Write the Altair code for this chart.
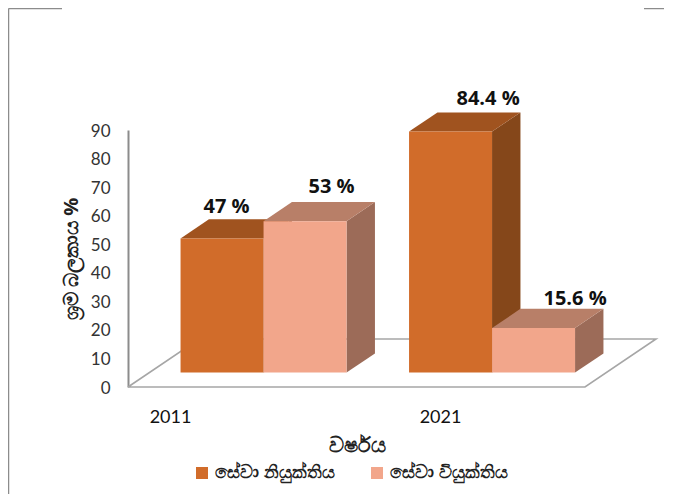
import altair as alt
import pandas as pd

years = ["2011", "2021"]
series = ["සේවා නියුක්තිය", "සේවා වියුක්තිය"]
values = [[47, 53], [84.4, 15.6]]
value_labels = [["47 %", "53 %"], ["84.4 %", "15.6 %"]]
front_colors = ["#D16C2A", "#F2A68B"]
top_colors = ["#A0531F", "#B87F68"]
side_colors = ["#85471A", "#9C6B58"]
y_ticks = [0, 10, 20, 30, 40, 50, 60, 70, 80, 90]

# layout (pixels of the plot area)
PW, PH = 528, 257
CAT = 228.5               # pixels per category
PX_V = PH / 90            # pixels per value unit
DX, DY = 71 / CAT, 48 / PX_V  # projected shift of full floor depth
BAR_W = 83 / CAT
D0, D1 = 0.3, 0.7         # bar depth range


def proj_x(u, d):
    return u + DX * d


def proj_y(v, d):
    return v + DY * d


label_du = [[46 / CAT, 68 / CAT], [79 / CAT, 83 / CAT]]
label_dv = [[12.5 / PX_V, 15.5 / PX_V], [13.5 / PX_V, 9.5 / PX_V]]

fronts, sides, tops, labels = [], [], [], []
for i, yr in enumerate(years):
    for j, s in enumerate(series):
        v = values[i][j]
        left = i + 0.5 - BAR_W + BAR_W * j
        right = left + BAR_W
        key = f"{yr}-{j}"
        fronts.append(dict(series=s, x=proj_x(left, D0), x2=proj_x(right, D0),
                           y=proj_y(0, D0), y2=proj_y(v, D0)))
        for d in (D0, D1):
            sides.append(dict(key=key, shade=side_colors[j], x=proj_x(right, d),
                              y=proj_y(0, d), y2=proj_y(v, d)))
            tops.append(dict(key=key, shade=top_colors[j], x=proj_x(left, d),
                             x2=proj_x(right, d), y=proj_y(v, d)))
        labels.append(dict(text=value_labels[i][j],
                           x=proj_x(left, D0) + label_du[i][j],
                           y=proj_y(v, D1) + label_dv[i][j]))

floor_pts = [(0, 0), (2, 0), (2, 1), (0, 1), (0, 0)]
floor = pd.DataFrame([dict(o=k, x=proj_x(u, d), y=proj_y(0, d))
                      for k, (u, d) in enumerate(floor_pts)])

x_scale = alt.Scale(domain=[0, PW / CAT], range=[0, PW], nice=False, zero=False)
y_scale = alt.Scale(domain=[0, 90], range=[PH, 0], nice=False, zero=False)
AXIS_COLOR = "#8C8C8C"
FONT_LAT = "Lato"
FONT_BOLD = "Open Sans"
FONT_SIN = "Noto Sans"

tick_pos = [42 / CAT, 312 / CAT]
x_axis = alt.Axis(values=tick_pos, labelExpr="datum.index < 0.5 ? '2011' : '2021'",
                  domain=False, ticks=False, grid=False, labelFontSize=18,
                  labelFont=FONT_LAT, labelColor="#111111", labelPadding=21,
                  labelFlush=False, labelOverlap=False,
                  title="වර්ෂය", titleFont=FONT_SIN, titleFontSize=21, titleFontWeight="bold",
                  titleColor="#222222", titleAnchor="start", titleX=229, titleY=58,
                  titleAlign="center", titleBaseline="middle")
y_axis = alt.Axis(values=y_ticks, domain=True, domainColor=AXIS_COLOR, domainWidth=2,
                  ticks=False, grid=False, labelFontSize=17, labelFont=FONT_LAT,
                  labelColor="#333333", labelPadding=18, labelOffset=1,
                  title="ශ්‍රම බලකාය %", titleFont=FONT_SIN, titleFontSize=20,
                  titleFontWeight="bold", titleColor="#222222", titlePadding=9)

X = alt.X("x:Q", scale=x_scale, axis=x_axis)
Y = alt.Y("y:Q", scale=y_scale, axis=y_axis, stack=None)

floor_layer = alt.Chart(floor).mark_line(color="#A6A6A6", strokeWidth=1.6).encode(
    x=X, y=Y, order="o:Q",
)
side_layer = alt.Chart(pd.DataFrame(sides)).mark_area(orient="vertical", opacity=1).encode(
    x=X, y=Y, y2="y2:Q", detail="key:N", color=alt.Color("shade:N", scale=None),
)
top_layer = alt.Chart(pd.DataFrame(tops)).mark_area(orient="horizontal", opacity=1).encode(
    x=X, x2="x2:Q", y=Y, detail="key:N", color=alt.Color("shade:N", scale=None),
)
front_layer = alt.Chart(pd.DataFrame(fronts)).mark_rect().encode(
    x=X, x2="x2:Q", y=Y, y2="y2:Q",
    color=alt.Color("series:N",
                    scale=alt.Scale(domain=series, range=front_colors),
                    legend=alt.Legend(orient="none", legendX=65, legendY=334,
                                      direction="horizontal", title=None,
                                      symbolType="square", symbolSize=144, symbolStrokeWidth=0,
                                      labelFont=FONT_SIN, labelFontSize=18, labelFontWeight="bold",
                                      labelOffset=4,
                                      labelColor="#222222", columnPadding=33, labelLimit=200)),
)
label_layer = alt.Chart(pd.DataFrame(labels)).mark_text(
    font=FONT_BOLD, fontSize=20, fontWeight="bold", color="#111111", baseline="middle", align="center",
).encode(x=X, y=Y, text="text:N")

# frame corners of the original picture
frame = pd.DataFrame([dict(x=-119.5, x2=-66, y=-121.5, y2=-121.5),
                      dict(x=-119.5, x2=-119.5, y=-121.5, y2=364),
                      dict(x=516, x2=536, y=-121.5, y2=-121.5)])
frame_layers = [
    alt.Chart(pd.DataFrame([row])).mark_rule(color=AXIS_COLOR, strokeWidth=1.5).encode(
        x=alt.value(row["x"]), x2=alt.value(row["x2"]),
        y=alt.value(row["y"]), y2=alt.value(row["y2"]))
    for row in frame.to_dict("records")
]

chart = alt.layer(*frame_layers, floor_layer, side_layer, top_layer, front_layer, label_layer).properties(
    width=PW, height=PH, background="white",
    padding={"left": 120, "top": 122, "right": 16, "bottom": 107},
    autosize=alt.AutoSizeParams(type="none"),
).configure_view(strokeWidth=0)

chart.save("out.html", embed_options={"renderer": "svg", "actions": False})
